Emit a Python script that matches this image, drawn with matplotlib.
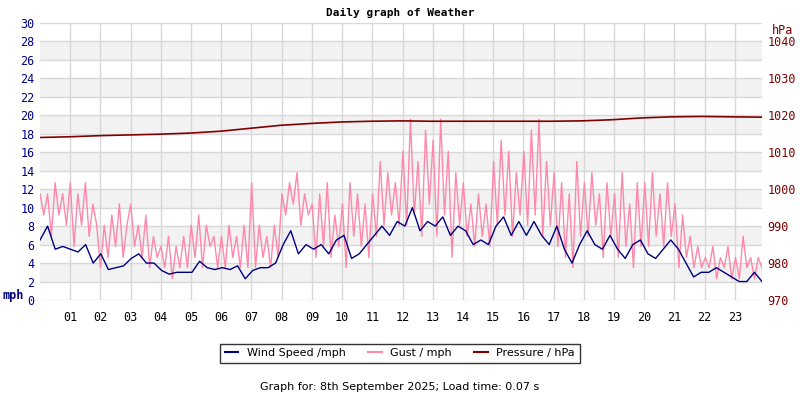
import numpy as np
import matplotlib
matplotlib.use("Agg")
import matplotlib.pyplot as plt

wind = [6.5,8,5.5,5.8, 5.5,5.2,6,4, 5,3.3,3.5,3.7, 4.5,5,4,4, 3.2,2.8,3,3, 3,4.2,3.5,3.3,
        3.5,3.3,3.7,2.3, 3.2,3.5,3.5,4, 6,7.5,5,6, 5.5,6,5,6.5, 7,4.5,5,6, 7,8,7,8.5,
        8,10,7.5,8.5, 8,9,7,8, 7.5,6,6.5,6, 8,9,7,8.5, 7,8.5,7,6, 8,5.5,4,6,
        7.5,6,5.5,7, 5.5,4.5,6,6.5, 5,4.5,5.5,6.5, 5.5,4,2.5,3, 3,3.5,3,2.5, 2,2,3,2]
gust = [11.5,9.2,11.5,6.9,12.7,9.2,11.5,8.1, 12.7,5.8,11.5,8.1,12.7,6.9,10.4,8.1,
        3.5,8.1,4.6,9.2,5.8,10.4,4.6,8.1, 10.4,5.8,8.1,4.6,9.2,3.5,6.9,4.6,
        5.8,3.5,6.9,2.3,5.8,3.5,6.9,3.5, 8.1,4.6,9.2,3.5,8.1,5.8,6.9,3.5,
        6.9,3.5,8.1,4.6,6.9,3.5,8.1,3.5, 12.7,3.5,8.1,4.6,6.9,3.5,8.1,4.6,
        11.5,9.2,12.7,10.4,13.8,8.1,11.5,9.2, 10.4,4.6,11.5,5.8,12.7,4.6,9.2,5.8,
        10.4,3.5,12.7,6.9,11.5,5.8,10.4,4.6, 11.5,6.9,15,8.1,13.8,9.2,12.7,8.1,
        16.1,8.1,19.6,9.2,15,6.9,18.4,10.4, 17.3,6.9,19.6,9.2,16.1,4.6,13.8,8.1,
        12.7,6.9,10.4,5.8,11.5,6.9,10.4,5.8, 15,8.1,17.3,9.2,16.1,6.9,13.8,9.2,
        16.1,8.1,18.4,9.2,19.6,6.9,15,8.1, 13.8,5.8,12.7,4.6,11.5,3.5,15,6.9,
        12.7,6.9,13.8,8.1,11.5,4.6,12.7,6.9, 11.5,4.6,13.8,5.8,10.4,3.5,12.7,5.8,
        12.7,5.8,13.8,6.9,11.5,5.8,12.7,6.9, 10.4,3.5,9.2,4.6,6.9,3.5,5.8,3.5,
        4.6,3.5,5.8,2.3,4.6,3.5,5.8,2.3, 4.6,2.3,6.9,3.5,4.6,2.3,4.6,3.5]
pressure = [1014,1014.2,1014.5,1014.7,1014.9,1015.2,1015.7,1016.5,1017.3,1017.8,1018.2,1018.4,
            1018.5,1018.4,1018.4,1018.4,1018.4,1018.4,1018.5,1018.8,1019.3,1019.6,1019.7,1019.6,1019.5]
hour_labels = ["%02d" % h for h in range(1, 24)]

t_wind = np.linspace(0, 23.9, len(wind))
t_gust = np.linspace(0, 23.9, len(gust))
t_pres = np.linspace(0, 23.9, len(pressure))

plt.rcParams["font.family"] = "DejaVu Sans Mono"
fig = plt.figure(figsize=(8, 4), dpi=100)
ax = fig.add_axes([0.05, 0.25, 0.9025, 0.6925])
for lo in range(2, 30, 4):
    ax.axhspan(lo, lo + 2, color="#f2f2f2", zorder=0, lw=0)
for y in range(0, 31, 2):
    ax.axhline(y, color="#d8d8d8", lw=1, zorder=0.5)
for h in range(1, 24):
    ax.axvline(h, color="#d8d8d8", lw=1, zorder=0.5)
ax.plot(t_gust, gust, color="#ff88aa", lw=1, zorder=2)
ax.plot(t_wind, wind, color="#000080", lw=1, zorder=3)
ax.set_xlim(0, 23.9)
ax.set_ylim(0, 30)
ax.set_yticks(range(0, 31, 2))
ax.set_xticks(range(1, 24))
ax.set_xticklabels(hour_labels)
ax.tick_params(axis="y", colors="#000080", labelsize=8.5, length=0, pad=4)
ax.tick_params(axis="x", colors="black", labelsize=8.5, length=0, pad=8)
for s in ax.spines.values():
    s.set_visible(False)
fig.text(0.003, 0.262, "mph", color="#000080", fontsize=8.5,
         fontweight="bold", ha="left", va="center")

ax2 = ax.twinx()
ax2.plot(t_pres, pressure, color="#800000", lw=1.2, zorder=4)
ax2.set_ylim(970, 970 + 30 * 70 / 28)
ax2.set_yticks(range(970, 1041, 10))
ax2.tick_params(axis="y", colors="#800000", labelsize=8.5, length=0, pad=4)
for s in ax2.spines.values():
    s.set_visible(False)
fig.text(0.965, 0.925, "hPa", color="#800000", fontsize=8.5, ha="left", va="center")

fig.text(0.5, 0.968, "Daily graph of Weather", ha="center", va="center", fontsize=8, fontweight="bold")
from matplotlib.lines import Line2D
handles = [Line2D([], [], color="#000080", lw=1.5), Line2D([], [], color="#ff88aa", lw=1.5),
           Line2D([], [], color="#800000", lw=1.5)]
leg = fig.legend(handles, ["Wind Speed /mph", "Gust / mph", "Pressure / hPa"], loc="center",
                 bbox_to_anchor=(0.5, 0.117), ncol=3, fontsize=8, frameon=True, fancybox=False,
                 handlelength=1.2, columnspacing=2, prop={"family": "DejaVu Sans", "size": 8})
leg.get_frame().set_edgecolor("black")
fig.text(0.5, 0.033, "Graph for: 8th September 2025; Load time: 0.07 s", ha="center", va="center",
         fontsize=8, family="DejaVu Sans")
fig.savefig("out.png", dpi=100)
